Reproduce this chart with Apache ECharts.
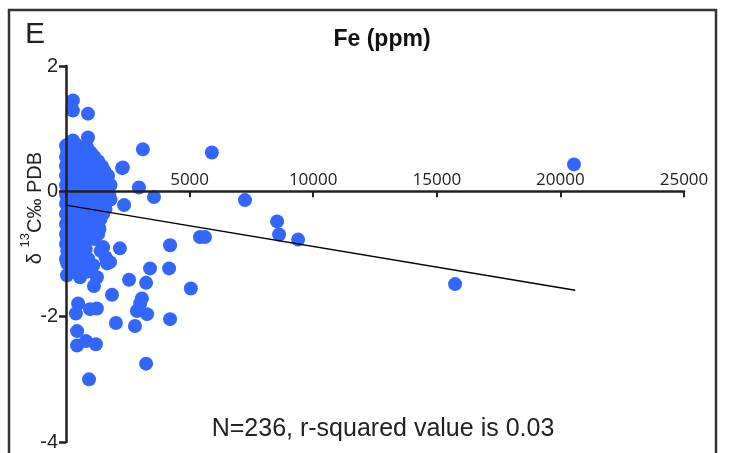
<!DOCTYPE html>
<html>
<head>
<meta charset="utf-8">
<script src="https://cdn.jsdelivr.net/npm/echarts@6/dist/echarts.min.js"></script>
<style>html,body{margin:0;padding:0;background:#fff}#c{width:737px;height:453px}</style>
</head>
<body>
<div id="c"></div>
<script>
// Fe (ppm) values
const feValues = [
  // outliers
  20550, 15740, 5900, 3110, 7240, 8540, 8620, 9390, 5420, 5620,
  3560, 2950, 2300, 2350, 4210, 2180, 4170, 3400, 2550, 5050,
  3240, 3070, 3000, 2870, 3280, 2790, 2020, 4210, 1860, 3240,
  930, 490, 400, 970, 1250, 450, 450, 810, 1210, 1130,
  570, 890, 1250, 40, 1660, 1500, 1330, 1780, 280, 280,
  890, 890, 280, 0, 2270, 120, 830, 1400, 1600, 1050,
  // upper cluster
  100, 250, 400,
  50, 600, 850,
  150, 350, 700, 1000,
  0, 250, 500, 800, 1150,
  100, 400, 650, 950, 1300,
  0, 300, 550, 850, 1100, 1450,
  150, 450, 750, 1000, 1300, 1550,
  0, 250, 600, 900, 1200, 1450, 1700,
  100, 400, 700, 1050, 1350, 1650,
  0, 300, 550, 850, 1150, 1500, 1800,
  150, 450, 750, 1000, 1300, 1600,
  // lower cluster
  0, 300, 600, 900, 1400, 1750,
  150, 450, 750, 1500, 1800,
  0, 300, 600, 900, 1200, 1550,
  100, 450, 800, 1050, 1350, 1600,
  0, 250, 600, 950, 1250, 1500,
  150, 400, 750, 1100, 1400,
  0, 300, 600, 900, 1200,
  100, 450, 750, 1050, 1350,
  0, 300, 600, 1300,
  150, 450, 850, 1150,
  0, 300, 650,
  100, 500, 800,
  250, 650,
  0, 400, 900,
  200, 700, 1100,
  350, 850,
  // along the axis
  50, 50, 50, 50, 50, 50, 50, 50, 50, 50,
  200, 200, 200, 200, 200, 200, 200, 200, 200, 200,
  350, 350, 350, 350, 350, 350, 350, 350, 350, 350,
  500, 500, 500, 500, 500, 500, 500, 500, 500, 500
];
// δ13C ‰ PDB values
const d13cValues = [
  0.43, -1.48, 0.62, 0.67, -0.14, -0.48, -0.69, -0.77, -0.73, -0.73,
  -0.09, 0.06, 0.38, -0.22, -0.86, -0.91, -1.23, -1.23, -1.41, -1.55,
  -1.46, -1.71, -1.79, -1.91, -1.96, -2.15, -2.10, -2.04, -1.65, -2.75,
  -3.00, -1.79, -1.95, -1.88, -1.87, -2.23, -2.46, -2.39, -2.44, -1.51,
  -1.37, -1.25, -1.37, -1.34, -1.15, -0.89, -0.57, -1.13, 1.45, 1.29,
  1.24, 0.86, 0.81, 0.73, 0.37, -0.94, -1.28, -0.95, -1.05, -0.30,
  0.75, 0.75, 0.75,
  0.70, 0.70, 0.70,
  0.62, 0.62, 0.62, 0.62,
  0.55, 0.55, 0.55, 0.55, 0.55,
  0.48, 0.48, 0.48, 0.48, 0.48,
  0.40, 0.40, 0.40, 0.40, 0.40, 0.40,
  0.33, 0.33, 0.33, 0.33, 0.33, 0.33,
  0.25, 0.25, 0.25, 0.25, 0.25, 0.25, 0.25,
  0.18, 0.18, 0.18, 0.18, 0.18, 0.18,
  0.10, 0.10, 0.10, 0.10, 0.10, 0.10, 0.10,
  0.03, 0.03, 0.03, 0.03, 0.03, 0.03,
  -0.05, -0.05, -0.05, -0.05, -0.05, -0.05,
  -0.13, -0.13, -0.13, -0.13, -0.13,
  -0.20, -0.20, -0.20, -0.20, -0.20, -0.20,
  -0.28, -0.28, -0.28, -0.28, -0.28, -0.28,
  -0.36, -0.36, -0.36, -0.36, -0.36, -0.36,
  -0.44, -0.44, -0.44, -0.44, -0.44,
  -0.52, -0.52, -0.52, -0.52, -0.52,
  -0.60, -0.60, -0.60, -0.60, -0.60,
  -0.68, -0.68, -0.68, -0.68,
  -0.76, -0.76, -0.76, -0.76,
  -0.84, -0.84, -0.84,
  -0.92, -0.92, -0.92,
  -1.00, -1.00,
  -1.08, -1.08, -1.08,
  -1.18, -1.18, -1.18,
  -1.28, -1.28,
  0.65, 0.45, 0.25, 0.05, -0.15, -0.35, -0.55, -0.75, -0.95, -1.15,
  0.55, 0.35, 0.15, -0.05, -0.25, -0.45, -0.65, -0.85, -1.05, -1.25,
  0.68, 0.45, 0.22, 0.00, -0.22, -0.45, -0.66, -0.80, -1.00, -1.22,
  0.60, 0.40, 0.20, -0.02, -0.24, -0.40, -0.58, -0.72, -0.88, -1.10
];
// regression line endpoints
const fitX = [0, 20600];
const fitY = [-0.22, -1.58];
const xTicks = [0, 5000, 10000, 15000, 20000, 25000];
const yTicks = [-4, -2, 0, 2];

const points = feValues.map((x, i) => [x, d13cValues[i]]);
const fitLine = fitX.map((x, i) => [x, fitY[i]]);

const gridTop = 66, gridBottomPx = 442;
const yMin = yTicks[0], yMax = yTicks[yTicks.length - 1];
// place the x axis line at y = 0
const zeroOffset = -(gridBottomPx - (gridTop + (yMax / (yMax - yMin)) * (gridBottomPx - gridTop)));

const chart = echarts.init(document.getElementById('c'), null, {renderer: 'canvas'});
const axisColor = '#231f20';
chart.setOption({
  animation: false,
  backgroundColor: '#fff',
  grid: {left: 66, right: 53, top: gridTop, bottom: 453 - gridBottomPx, containLabel: false},
  xAxis: {
    type: 'value', min: xTicks[0], max: xTicks[xTicks.length - 1], interval: 5000,
    position: 'bottom', offset: zeroOffset,
    z: 5,
    axisLine: {onZero: false, lineStyle: {color: axisColor, width: 2.5}},
    axisTick: {show: true, inside: false, length: 6, lineStyle: {color: axisColor, width: 2}},
    axisLabel: {inside: true, margin: 3, color: '#222', fontSize: 17, fontFamily: 'Open Sans',
      formatter: v => v === 0 ? '' : String(v)},
    splitLine: {show: false}
  },
  yAxis: {
    type: 'value', min: yMin, max: yMax, interval: 2,
    z: 5,
    axisLine: {onZero: false, lineStyle: {color: axisColor, width: 2.5}},
    axisTick: {show: true, length: 7, lineStyle: {color: axisColor, width: 2.5}},
    axisLabel: {margin: 8, color: '#222', fontSize: 20, fontFamily: 'Liberation Sans'},
    splitLine: {show: false}
  },
  series: [
    {type: 'scatter', data: points, symbolSize: 14, z: 2,
      itemStyle: {color: '#3366ff', opacity: 1}},
    {type: 'line', data: fitLine, showSymbol: false, symbol: 'none', z: 6,
      lineStyle: {color: '#000', width: 1.5}}
  ],
  graphic: [
    {type: 'rect', shape: {x: 9, y: 10, width: 707, height: 470},
      style: {fill: 'none', stroke: '#333', lineWidth: 2.5}, z: 10},
    {type: 'text', left: 25, top: 20,
      style: {text: 'E', font: '30px "Liberation Sans"', fill: '#222'}},
    {type: 'text', x: 382, y: 40,
      style: {text: 'Fe (ppm)', font: 'bold 23px "Liberation Sans"', fill: '#111',
        align: 'center', verticalAlign: 'middle'}},
    {type: 'text', x: 383, y: 429,
      style: {text: 'N=236, r-squared value is 0.03', font: '25px "Liberation Sans"', fill: '#222',
        align: 'center', verticalAlign: 'middle'}},
    {type: 'text', x: 32, y: 208, rotation: Math.PI / 2,
      style: {
        text: '{a|δ }{s|13}{a|C‰ PDB}',
        align: 'center', verticalAlign: 'middle',
        rich: {
          a: {font: '20px "Liberation Sans"', fill: '#222', verticalAlign: 'bottom', lineHeight: 26},
          s: {font: '13px "Liberation Sans"', fill: '#222', verticalAlign: 'top', lineHeight: 26}
        }
      }}
  ]
});
</script>
</body>
</html>
